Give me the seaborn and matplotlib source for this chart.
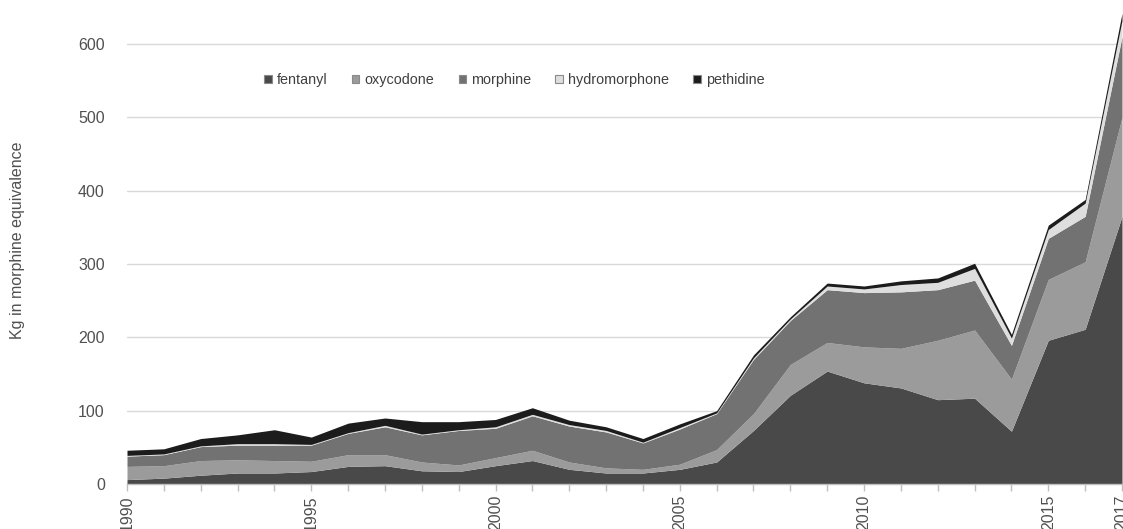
import matplotlib
matplotlib.use("Agg")
import matplotlib.pyplot as plt
import seaborn as sns
from matplotlib.patches import Patch

years = list(range(1990, 2018))
fentanyl      = [6, 8, 12, 15, 15, 17, 24, 25, 18, 17, 25, 32, 20, 15, 15, 20, 30, 73, 121, 154, 138, 131, 115, 117, 72, 196, 211, 365]
oxycodone     = [18, 17, 20, 18, 17, 14, 16, 15, 12, 9, 11, 14, 10, 7, 5, 7, 17, 23, 42, 39, 49, 54, 81, 93, 71, 83, 92, 135]
morphine      = [14, 15, 19, 20, 21, 22, 29, 38, 37, 47, 40, 47, 49, 49, 36, 48, 49, 74, 60, 72, 74, 77, 69, 68, 46, 56, 62, 110]
hydromorphone = [1, 1, 1, 2, 2, 1, 1, 2, 1, 1, 2, 2, 2, 2, 1, 2, 1, 2, 2, 5, 5, 10, 10, 16, 10, 12, 18, 22]
pethidine     = [7, 7, 10, 12, 19, 10, 13, 10, 17, 11, 10, 9, 6, 5, 5, 5, 3, 4, 3, 4, 4, 5, 6, 7, 5, 6, 5, 10]

series_names = ["fentanyl", "oxycodone", "morphine", "hydromorphone", "pethidine"]
series_colors = ["#494949", "#9b9b9b", "#727272", "#dedede", "#1c1c1c"]
major_years = [1990, 1995, 2000, 2005, 2010, 2015, 2017]
y_ticks = [0, 100, 200, 300, 400, 500, 600]

sns.set_theme(style="white")
plt.rcParams['font.family'] = ['Liberation Sans', 'DejaVu Sans']

fig = plt.figure(figsize=(11.23, 5.29), dpi=100)
ax = fig.add_axes([127 / 1123, 45 / 529, (1122 - 127) / 1123, 484 / 529])

ax.stackplot(years, fentanyl, oxycodone, morphine, hydromorphone, pethidine,
             colors=series_colors, linewidth=0, zorder=2)

ax.set_xlim(1990, 2017)
ax.set_ylim(0, 660)
ax.set_yticks(y_ticks)
ax.set_xticks(major_years)
ax.set_xticks(years, minor=True)
ax.set_xticklabels([str(y) for y in major_years], rotation=90)

ax.yaxis.grid(True, color="#d9d9d9", linewidth=1)
ax.xaxis.grid(False)
ax.set_axisbelow(True)

for s in ["left", "top", "right"]:
    ax.spines[s].set_visible(False)
ax.spines["bottom"].set_color("#bfbfbf")
ax.spines["bottom"].set_linewidth(1)
ax.spines["bottom"].set_zorder(3)

ax.tick_params(axis="x", which="both", direction="out", length=5, width=1,
               color="#bfbfbf", labelsize=11.5, labelcolor="#505050", pad=3, bottom=True)
ax.tick_params(axis="y", which="both", length=0, labelsize=11.5, labelcolor="#505050", pad=16)

fig.text(18 / 1123, 1 - 240 / 529, "Kg in morphine equivalence", rotation=90,
         ha="center", va="center", fontsize=11.5, color="#505050")

handles = [Patch(facecolor=c, edgecolor="#8a8a8a", linewidth=0.8) for c in series_colors]
fig.legend(handles, series_names, loc="center", bbox_to_anchor=(0.458, 0.849), ncol=5,
           frameon=False, fontsize=10.4, handlelength=0.5, handleheight=0.5,
           handletextpad=0.35, columnspacing=1.7, labelcolor="#404040")

fig.savefig("out.png", dpi=100)
